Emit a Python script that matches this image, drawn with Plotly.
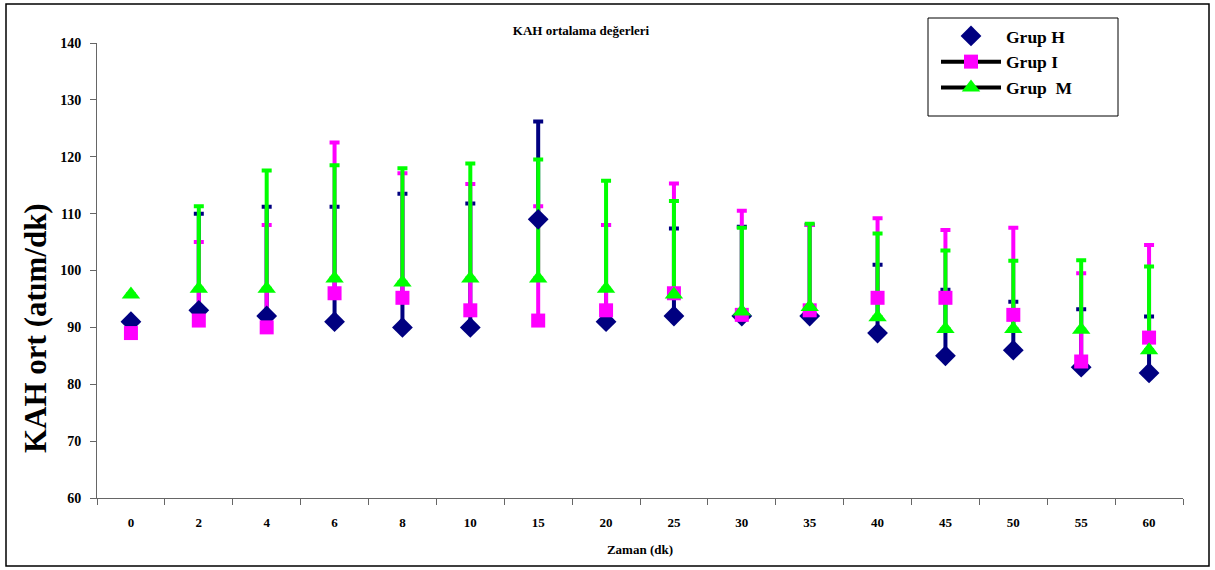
import plotly.graph_objects as go

categories = ["0", "2", "4", "6", "8", "10", "15", "20", "25", "30", "35", "40", "45", "50", "55", "60"]

grup_h = [91, 93, 92, 91, 90, 90, 109, 91, 92, 92, 92, 89, 85, 86, 83, 82]
grup_h_err = [0, 17, 19.2, 20.2, 23.5, 21.8, 17.2, 17, 15.4, 15.7, 16, 12, 11.6, 8.5, 10.2, 9.9]

grup_i = [89, 91.2, 90, 96, 95.2, 93, 91.2, 93, 96, 92.2, 93, 95.2, 95.2, 92.2, 84, 88.2]
grup_i_err = [0, 13.8, 18, 26.5, 21.9, 22.2, 20.1, 15, 19.3, 18.3, 15, 14, 11.9, 15.3, 15.5, 16.3]

grup_m = [95.8, 96.8, 96.8, 98.6, 97.9, 98.6, 98.6, 96.8, 95.8, 92.8, 93.6, 91.8, 89.7, 89.7, 89.6, 86]
grup_m_err = [0, 14.5, 20.8, 19.9, 20.1, 20.2, 20.9, 19, 16.4, 14.7, 14.6, 14.7, 13.8, 12, 12.2, 14.7]

names = ["Grup H", "Grup I", "Grup  M"]
colors = ["#000080", "#FF00FF", "#00FF00"]
symbols = ["diamond", "square", "triangle-up"]
sizes = [16, 14, 16]
series = [(grup_h, grup_h_err), (grup_i, grup_i_err), (grup_m, grup_m_err)]

FONT = "Liberation Serif"
fig = go.Figure()

# error bars (upper only)
for (vals, errs), c in zip(series, colors):
    fig.add_trace(go.Scatter(
        x=categories, y=vals, mode="markers",
        marker=dict(opacity=0, size=1),
        error_y=dict(type="data", array=errs, arrayminus=[0] * len(errs),
                     symmetric=False, color=c, thickness=4, width=5),
        showlegend=False, hoverinfo="skip"))

# markers on top
for (vals, errs), c, s, sz in zip(series, colors, symbols, sizes):
    fig.add_trace(go.Scatter(
        x=categories, y=vals, mode="markers",
        marker=dict(color=c, symbol=s, size=sz, line=dict(width=0)),
        showlegend=False))

# legend entries
for i, (n, c, s, sz) in enumerate(zip(names, colors, symbols, sizes)):
    fig.add_trace(go.Scatter(
        x=[None], y=[None], name=n,
        mode="markers" if i == 0 else "lines+markers",
        line=dict(color="black", width=4),
        marker=dict(color=c, symbol=s, size=sz, line=dict(width=0))))

L, R, T, B = 97, 32, 43, 72
pw, ph = 1215 - L - R, 570 - T - B

def px(x):
    return (x - L) / pw

def py(y):
    return (570 - B - y) / ph

# outer frame
fig.add_shape(type="rect", xref="paper", yref="paper",
              x0=px(6), x1=px(1209), y0=py(566), y1=py(4),
              line=dict(color="black", width=1.5), layer="below")
# legend frame
fig.add_shape(type="rect", xref="paper", yref="paper",
              x0=px(928), x1=px(1118), y0=py(116), y1=py(18),
              line=dict(color="black", width=1), fillcolor="white", layer="below")

fig.add_annotation(text="KAH ort (atım/dk)", xref="paper", yref="paper",
                   x=px(35), y=py(328), textangle=-90, showarrow=False,
                   xanchor="center", yanchor="middle",
                   font=dict(family=FONT, size=31, weight="bold", color="black"))

fig.update_layout(
    width=1215, height=570,
    margin=dict(l=L, r=R, t=T, b=B, autoexpand=False),
    paper_bgcolor="white", plot_bgcolor="white",
    font=dict(family=FONT, color="black"),
    title=dict(text="KAH ortalama değerleri", x=581 / 1215, xanchor="center",
               y=1 - 30 / 570, yanchor="middle",
               font=dict(family=FONT, size=13, weight="bold", color="black")),
    legend=dict(x=px(936), y=py(18), xanchor="left", yanchor="top",
                bgcolor="rgba(0,0,0,0)", borderwidth=0,
                font=dict(family=FONT, size=17.5, weight="bold", color="black"),
                itemwidth=60, tracegroupgap=0),
    xaxis=dict(type="category", categoryorder="array", categoryarray=categories,
               range=[-0.5, 15.5], showgrid=False, zeroline=False, automargin=False,
               showline=True, linecolor="#666", linewidth=1,
               ticks="outside", tickson="boundaries", ticklen=6, tickcolor="#666",
               ticklabelstandoff=12,
               tickfont=dict(family=FONT, size=13, weight="bold", color="black"),
               title=dict(text="Zaman (dk)", standoff=16,
                          font=dict(family=FONT, size=13, weight="bold", color="black"))),
    yaxis=dict(range=[60, 140], dtick=10, showgrid=False, zeroline=False, automargin=False,
               showline=True, linecolor="#666", linewidth=1,
               ticks="outside", ticklen=6, tickcolor="#666",
               ticklabelstandoff=6,
               tickfont=dict(family=FONT, size=14, weight="bold", color="black")),
)

fig.write_html("out.html", config={"displayModeBar": False},
               post_script="document.body.style.margin='0';")
